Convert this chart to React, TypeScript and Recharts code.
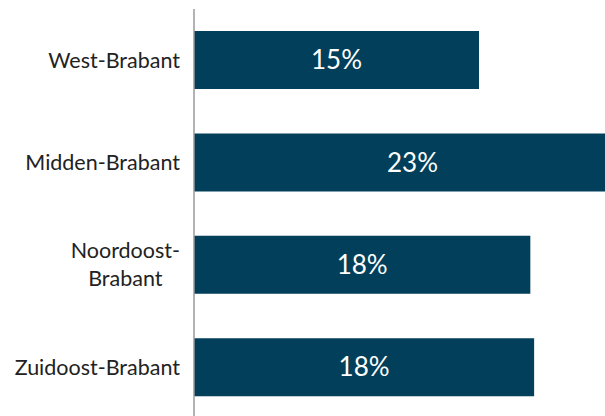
import { BarChart, Bar, XAxis, YAxis, LabelList } from 'recharts';

const regions = ['West-Brabant', 'Midden-Brabant', 'Noordoost-Brabant', 'Zuidoost-Brabant'];
const shares = [15.0, 23.0, 17.7, 17.9];

const data = regions.map((name, i) => ({ name, value: shares[i] }));

const FONT = 'Lato, "Noto Sans", sans-serif';
const TICK_SIZE = 21.5;

let ctx: CanvasRenderingContext2D | null = null;
function measure(text: string) {
    if (!ctx) ctx = document.createElement('canvas').getContext('2d');
    if (!ctx) return text.length * TICK_SIZE * 0.55;
    ctx.font = `${TICK_SIZE}px ${FONT}`;
    return ctx.measureText(text).width;
}

// category labels: long ones break after the hyphen and are centred as a block
function RegionTick(props: any) {
    const { x, y, payload } = props;
    const label: string = payload.value;
    const maxWidth = 172;
    if (measure(label) <= maxWidth) {
        return (
            <text x={x} y={y} dy="0.35em" textAnchor="end" fill="#222" fontSize={TICK_SIZE} fontFamily={FONT}>
                {label}
            </text>
        );
    }
    const cut = label.indexOf('-') + 1;
    const lines = [label.slice(0, cut), label.slice(cut)];
    const w = Math.max(...lines.map(measure));
    const cx = x - w / 2;
    const lh = 28;
    return (
        <text x={cx} y={y} textAnchor="middle" fill="#222" fontSize={TICK_SIZE} fontFamily={FONT}>
            {lines.map((l, i) => (
                <tspan key={i} x={cx} y={y + (i - (lines.length - 1) / 2) * lh} dy="0.35em">
                    {l}
                </tspan>
            ))}
        </text>
    );
}

export default function App() {
    return (
        <div style={{ width: 605, height: 416, overflow: 'hidden' }}>
            <style>{'body{margin:0;overflow:hidden}'}</style>
            <BarChart
                width={605}
                height={420}
                data={data}
                layout="vertical"
                margin={{ top: 9, right: 0, bottom: 1.5, left: 0 }}
            >
                <XAxis type="number" hide domain={[0, 21.63]} allowDataOverflow />
                <YAxis
                    type="category"
                    dataKey="name"
                    width={194}
                    tickLine={false}
                    axisLine={{ stroke: '#9a9a9a', strokeWidth: 1.5 }}
                    tickMargin={8}
                    tick={<RegionTick />}
                />
                <Bar dataKey="value" fill="#023f5a" barSize={58} isAnimationActive={false}>
                    <LabelList
                        dataKey="value"
                        position="center"
                        formatter={(v: any) => `${Math.round(Number(v))}%`}
                        fill="#ffffff"
                        fontSize={26}
                        fontFamily={FONT}
                    />
                </Bar>
            </BarChart>
        </div>
    );
}
